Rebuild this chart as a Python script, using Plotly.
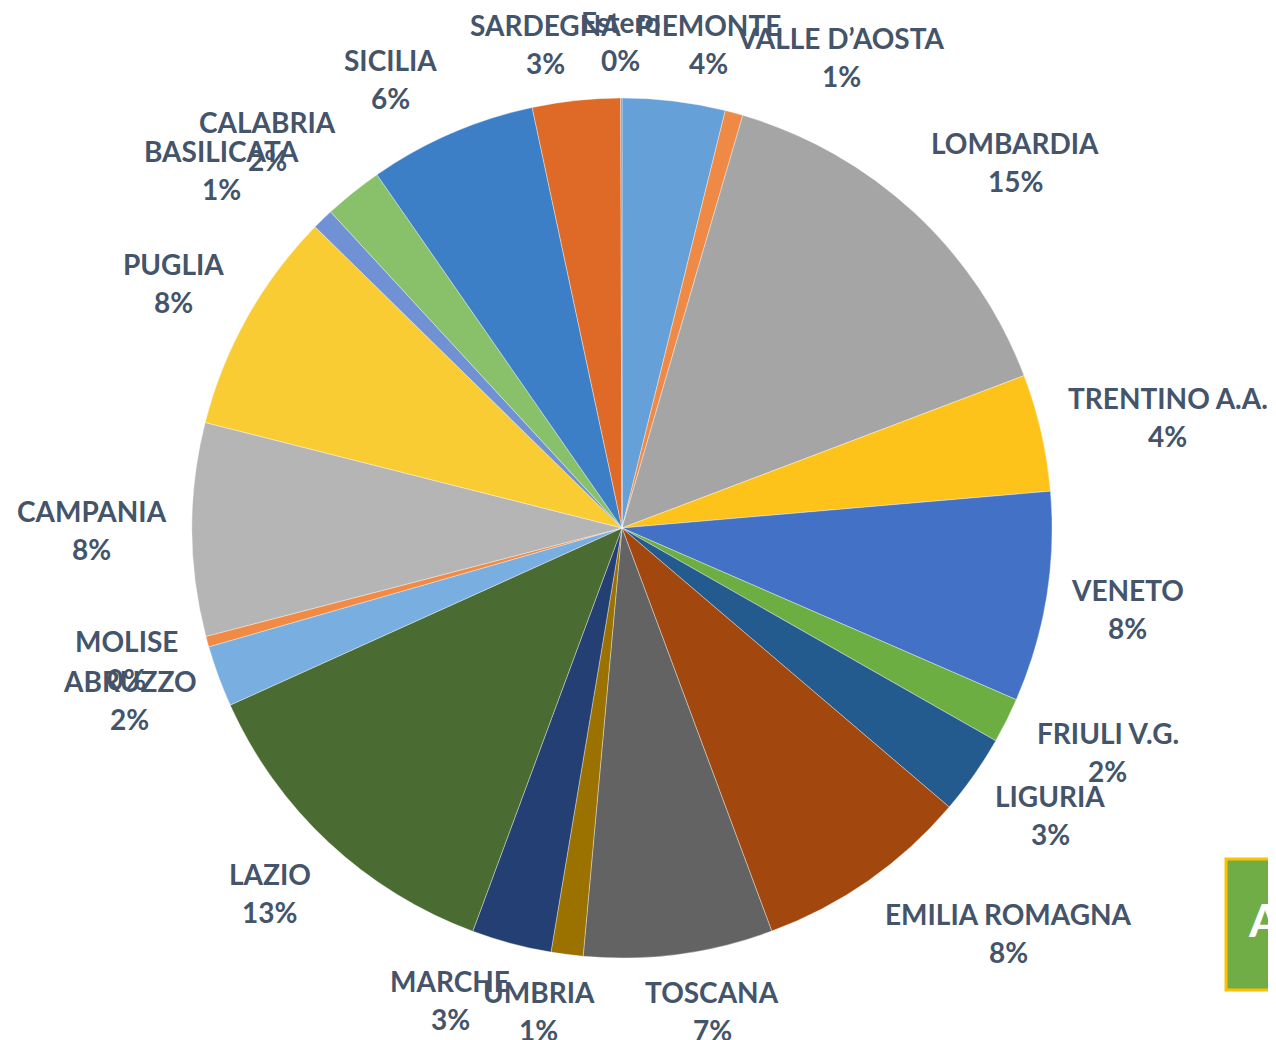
import math

import plotly.graph_objects as go

# Regioni (ordine orario a partire dalle ore 12)
regioni = [
    "PIEMONTE", "VALLE D\u2019AOSTA", "LOMBARDIA", "TRENTINO A.A.", "VENETO",
    "FRIULI V.G.", "LIGURIA", "EMILIA ROMAGNA", "TOSCANA", "UMBRIA",
    "MARCHE", "LAZIO", "ABRUZZO", "MOLISE", "CAMPANIA",
    "PUGLIA", "BASILICATA", "CALABRIA", "SICILIA", "SARDEGNA", "Estero",
]
quote = [
    3.86, 0.67, 14.7, 4.4, 7.9,
    1.7, 3.0, 8.1, 7.1, 1.2,
    3.0, 12.6, 2.3, 0.4, 8.0,
    8.4, 0.8, 2.2, 6.3, 3.3, 0.05,
]
colori = [
    "#65A0D9", "#EE8A45", "#A5A5A5", "#FEC31A", "#4271C6",
    "#6DAE43", "#245B8F", "#A2480F", "#636363", "#9B7100",
    "#243F73", "#4A6B31", "#78AEE0", "#F08A45", "#B5B5B5",
    "#FACC33", "#7092D4", "#89C16A", "#3C7FC7", "#DF6A28", "#8F8F8F",
]

W, H = 1276, 1040
DOM_X = [0.1442, 0.8182]
DOM_Y = [0.0865, 0.9135]
FONT_SIZE = 28
TEXT_COLOR = "#44546A"


def larghezza(testo):
    # stima grezza della larghezza del testo (px)
    w = 0
    for ch in testo:
        if ch in "I.\u2019' ":
            w += 8.5
        elif ch in "MW":
            w += 27
        else:
            w += 17
    return w * 1.08


fig = go.Figure()

fig.add_trace(
    go.Pie(
        labels=regioni,
        values=quote,
        sort=False,
        direction="clockwise",
        rotation=0,
        textinfo="none",
        hoverinfo="label+percent",
        marker=dict(colors=colori, line=dict(color="rgba(255,255,255,0.6)", width=0.6)),
        domain=dict(x=DOM_X, y=DOM_Y),
        showlegend=False,
    )
)

# etichette fuori dalla torta, stile Excel (posizione calcolata dagli angoli)
cx = (DOM_X[0] + DOM_X[1]) / 2 * W
cy = (1 - (DOM_Y[0] + DOM_Y[1]) / 2) * H
raggio = min((DOM_X[1] - DOM_X[0]) * W, (DOM_Y[1] - DOM_Y[0]) * H) / 2
gap = 26
totale = sum(quote)
cum = 0.0
annotations = []
for nome, v in zip(regioni, quote):
    mid = (cum + v / 2) / totale * 2 * math.pi
    cum += v
    s, c = math.sin(mid), math.cos(mid)
    w_box = larghezza(nome)
    h_box = 62
    kx = max(-1.0, min(1.0, 3.5 * s))
    ky = max(-1.0, min(1.0, 1.4 * c))
    px = cx + (raggio + gap) * s + kx * w_box / 2
    py = cy - (raggio + gap) * c - ky * h_box / 2
    pct = round(v / totale * 100)
    for testo, dy in ((nome, -19), (f"{pct}%", 19)):
        annotations.append(
            dict(
                x=px / W,
                y=1 - (py + dy) / H,
                xref="paper",
                yref="paper",
                text=f"<b>{testo}</b>",
                showarrow=False,
                xanchor="center",
                yanchor="middle",
                font=dict(family="Lato", size=FONT_SIZE, color=TEXT_COLOR),
            )
        )

# riquadro verde tagliato sul bordo destro
annotations.append(
    dict(
        x=1238 / W,
        y=1 - 911 / H,
        xref="paper",
        yref="paper",
        text="<b>AT</b>",
        showarrow=False,
        xanchor="left",
        yanchor="middle",
        font=dict(family="Lato", size=46, color="white"),
    )
)

fig.update_layout(
    width=W,
    height=H,
    margin=dict(l=0, r=0, t=0, b=0),
    paper_bgcolor="white",
    plot_bgcolor="white",
    annotations=annotations,
    shapes=[
        dict(
            type="rect",
            xref="paper",
            yref="paper",
            x0=1218 / W,
            x1=1.08,
            y0=1 - 982 / H,
            y1=1 - 851 / H,
            fillcolor="#70AD47",
            line=dict(color="#FFC000", width=3),
            layer="above",
        )
    ],
)

fig.write_html("out.html")
